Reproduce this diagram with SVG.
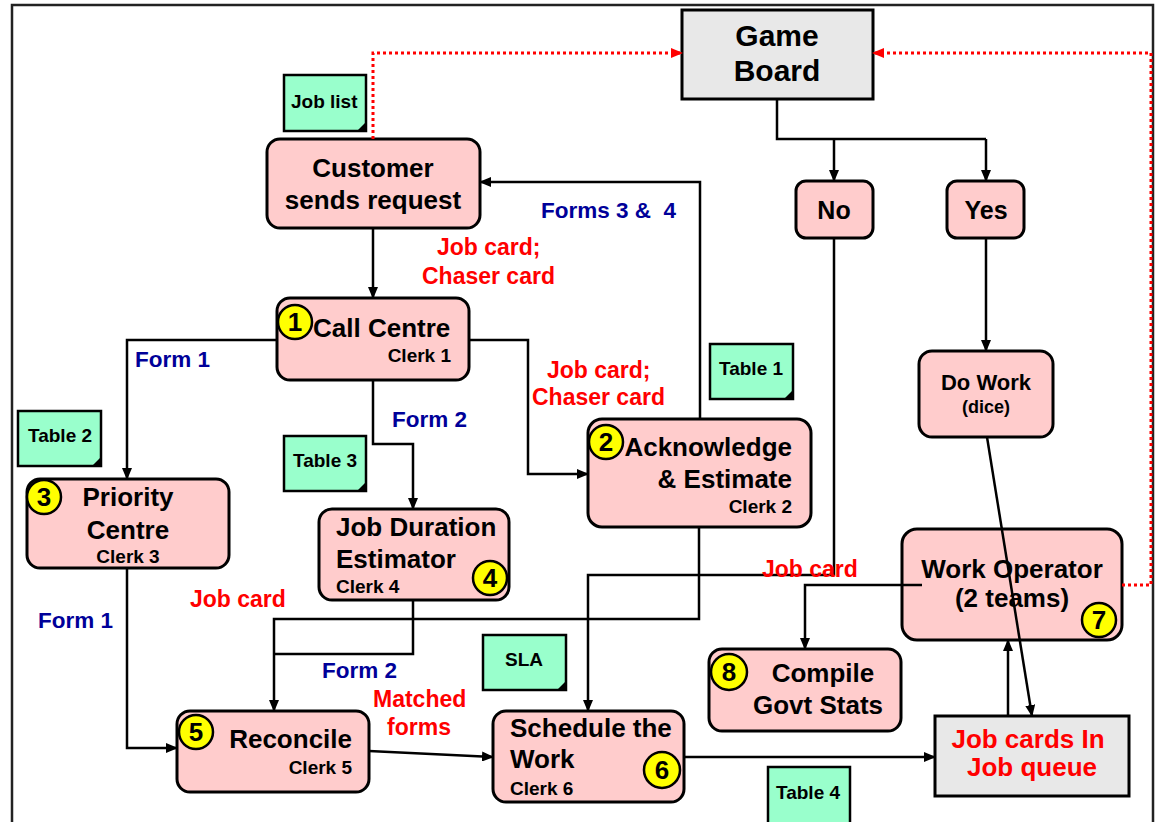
<svg xmlns="http://www.w3.org/2000/svg" width="1159" height="822" viewBox="0 0 1159 822">
<defs>
<style>
text{font-family:"Liberation Sans",Arial,sans-serif;font-weight:bold;fill:#000}
.box{fill:#ffcccc;stroke:#000;stroke-width:3}
.grey{fill:#e8e8e8;stroke:#000;stroke-width:3}
.note{fill:#99ffcc;stroke:#000;stroke-width:2.5}
.num{fill:#ffff00;stroke:#000;stroke-width:2.5}
.t26{font-size:26px}
.t19{font-size:19px}
.t18{font-size:18px}
.n{font-size:26px;text-anchor:middle}
.c{text-anchor:middle}
.e{text-anchor:end}
.blue{fill:#000099;font-size:22.5px}
.red{fill:#ff0000;font-size:23px}
.ln{fill:none;stroke:#000;stroke-width:2.5}
.arr{marker-end:url(#ah)}
.dot{fill:none;stroke:#ff0000;stroke-width:3;stroke-dasharray:3 3;marker-end:url(#rh)}
</style>
<marker id="ah" markerUnits="userSpaceOnUse" markerWidth="12" markerHeight="10" refX="11" refY="5" orient="auto"><path d="M0,0 L12,5 L0,10 Z" fill="#000"/></marker>
<marker id="rh" markerUnits="userSpaceOnUse" markerWidth="12" markerHeight="10" refX="11" refY="5" orient="auto"><path d="M0,0 L12,5 L0,10 Z" fill="#ff0000"/></marker>
<g id="fold"><path d="M0,0 L-9,0 L0,-9 Z" fill="#000"/></g>
</defs>
<rect width="1159" height="822" fill="#fff"/>
<rect x="12" y="5" width="1141" height="835" fill="none" stroke="#222" stroke-width="2.5"/>

<g id="game-board"><rect class="grey" x="682" y="10" width="191" height="89"/><text class="c" font-size="30" x="777" y="46">Game</text><text class="c" font-size="30" x="777" y="81">Board</text></g>
<g id="no"><rect class="box" x="796" y="181" width="77" height="57" rx="10"/><text class="c" font-size="25" x="834" y="219">No</text></g>
<g id="yes"><rect class="box" x="947" y="181" width="77" height="57" rx="10"/><text class="c" font-size="25" x="986" y="219">Yes</text></g>

<g id="job-list"><rect class="note" x="284" y="75" width="82" height="56"/><use href="#fold" x="366" y="131"/><text class="t19" x="291" y="108">Job list</text></g>
<g id="table-2"><rect class="note" x="18" y="411" width="83" height="55"/><use href="#fold" x="101" y="466"/><text class="t19" x="28" y="442">Table 2</text></g>
<g id="table-3"><rect class="note" x="284" y="436" width="82" height="55"/><use href="#fold" x="366" y="491"/><text class="t19" x="293" y="467">Table 3</text></g>
<g id="table-1"><rect class="note" x="710" y="344" width="83" height="55"/><use href="#fold" x="793" y="399"/><text class="t19" x="719" y="375">Table 1</text></g>
<g id="sla"><rect class="note" x="483" y="635" width="83" height="55"/><use href="#fold" x="566" y="690"/><text class="t19 c" x="524" y="666">SLA</text></g>
<g id="table-4"><rect class="note" x="768" y="767" width="82" height="58"/><text class="t19" x="776" y="799">Table 4</text></g>

<g id="customer"><rect class="box" x="267" y="139" width="213" height="89" rx="13"/><text class="t26 c" x="373" y="177">Customer</text><text class="t26 c" x="373" y="209">sends request</text></g>

<g id="call-centre"><rect class="box" x="277" y="298" width="192" height="82" rx="13"/><circle class="num" cx="295" cy="322" r="17"/><text class="n" x="295" y="331">1</text><text class="t26" x="313" y="337">Call Centre</text><text class="t19 e" x="451" y="362">Clerk 1</text></g>

<g id="priority-centre"><rect class="box" x="27" y="479" width="202" height="89" rx="13"/><circle class="num" cx="44" cy="497" r="17"/><text class="n" x="44" y="506">3</text><text class="t26 c" x="128" y="506">Priority</text><text class="t26 c" x="128" y="539">Centre</text><text class="t19 c" x="128" y="563">Clerk 3</text></g>

<g id="job-duration-estimator"><rect class="box" x="319" y="509" width="190" height="91" rx="13"/><text class="t26" x="336" y="536">Job Duration</text><text class="t26" x="336" y="568">Estimator</text><text class="t19" x="336" y="593">Clerk 4</text><circle class="num" cx="490" cy="578" r="17"/><text class="n" x="490" y="587">4</text></g>

<g id="acknowledge"><rect class="box" x="588" y="419" width="223" height="108" rx="14"/><circle class="num" cx="606" cy="442" r="17"/><text class="n" x="606" y="451">2</text><text class="t26 e" x="792" y="456">Acknowledge</text><text class="t26 e" x="792" y="488">&amp; Estimate</text><text class="t19 e" x="792" y="513">Clerk 2</text></g>

<g id="do-work"><rect class="box" x="919" y="351" width="134" height="86" rx="13"/><text class="c" font-size="22" x="986" y="390">Do Work</text><text class="t18 c" x="986" y="413">(dice)</text></g>

<g id="work-operator"><rect class="box" x="902" y="529" width="220" height="111" rx="15"/><text class="t26 c" x="1012" y="578">Work Operator</text><text class="t26 c" x="1012" y="607">(2 teams)</text><circle class="num" cx="1099" cy="620" r="17"/><text class="n" x="1099" y="629">7</text></g>

<g id="compile-govt-stats"><rect class="box" x="709" y="649" width="192" height="82" rx="13"/><circle class="num" cx="729" cy="672" r="18"/><text class="n" x="729" y="681">8</text><text class="t26 c" x="823" y="682">Compile</text><text class="t26 c" x="818" y="714">Govt Stats</text></g>

<g id="reconcile"><rect class="box" x="177" y="711" width="192" height="81" rx="13"/><circle class="num" cx="196" cy="732" r="17"/><text class="n" x="196" y="741">5</text><text class="t26 e" x="352" y="748">Reconcile</text><text class="t19 e" x="352" y="774">Clerk 5</text></g>

<g id="schedule-the-work"><rect class="box" x="493" y="711" width="191" height="91" rx="13"/><text class="t26" x="510" y="737">Schedule the</text><text class="t26" x="510" y="768">Work</text><text class="t19" x="510" y="795">Clerk 6</text><circle class="num" cx="662" cy="770" r="18"/><text class="n" x="662" y="779">6</text></g>

<g id="job-queue"><rect class="grey" x="935" y="716" width="194" height="80"/><text class="c" font-size="26" style="fill:#ff0000" x="1028" y="748">Job cards In</text><text class="c" font-size="26" style="fill:#ff0000" x="1032" y="776">Job queue</text></g>

<g id="connectors">
<path class="ln arr" d="M373,228 V298"/>
<path class="ln arr" d="M277,340 H127 V479"/>
<path class="ln arr" d="M373,380 V444 H413 V509"/>
<path class="ln arr" d="M469,340 H528 V474 H588"/>
<path class="ln arr" d="M700,419 V182 H480"/>
<path class="ln" d="M413,600 V654 H274"/>
<path class="ln arr" d="M699,527 V619 H274 V711"/>
<path class="ln arr" d="M127,568 V748 H177"/>
<path class="ln arr" d="M369,751 L493,757"/>
<path class="ln arr" d="M834,238 V575 H588 V711"/>
<path class="ln arr" d="M684,757 H935"/>
<path class="ln arr" d="M922,585 H805 V649"/>
<path class="ln" d="M777,99 V139 H986"/>
<path class="ln arr" d="M834,139 V181"/>
<path class="ln arr" d="M986,139 V181"/>
<path class="ln arr" d="M986,238 V351"/>
<path class="ln arr" d="M987,437 L1032,716"/>
<path class="ln arr" d="M1008,716 V640"/>
<path class="dot" d="M373,139 V53 H682"/>
<path class="dot" d="M1122,585 H1151 V53 H873"/>
</g>

<g id="labels">
<text class="red" x="437" y="255">Job card;</text>
<text class="red" x="422" y="284">Chaser card</text>
<text class="blue" x="541" y="218" xml:space="preserve">Forms 3 &amp;  4</text>
<text class="blue" x="135" y="367">Form 1</text>
<text class="blue" x="392" y="427">Form 2</text>
<text class="red" x="547" y="378">Job card;</text>
<text class="red" x="532" y="405">Chaser card</text>
<text class="red" x="190" y="607">Job card</text>
<text class="blue" x="38" y="628">Form 1</text>
<text class="blue" x="322" y="678">Form 2</text>
<text class="red" x="373" y="707">Matched</text>
<text class="red c" x="419" y="735">forms</text>
<text class="red" x="762" y="577">Job card</text>
</g>
</svg>
